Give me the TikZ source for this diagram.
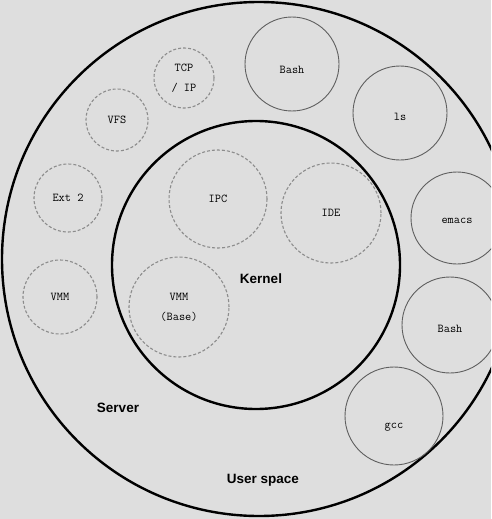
\documentclass[tikz,border=0pt]{standalone}
\usepackage{fontspec}
\setmainfont{Liberation Serif}
\setsansfont{Liberation Sans}
\usepackage{tikz}
\usetikzlibrary{positioning}
\definecolor{paper}{RGB}{222,222,222}
\definecolor{dashgray}{RGB}{140,140,140}
\definecolor{ringgray}{RGB}{95,95,95}

\begin{document}
\begin{tikzpicture}[x=1pt, y=-1pt,
  ring/.style={draw=black, line width=2.4pt, circle, inner sep=0pt},
  kmod/.style={draw=dashgray, densely dashed, line width=1.1pt, circle,
    inner sep=0pt, align=center, font=\ttfamily\fontsize{12}{20}\selectfont},
  uproc/.style={draw=ringgray, line width=0.9pt, circle, inner sep=0pt,
    font=\ttfamily\fontsize{12}{13}\selectfont},
  area/.style={font=\sffamily\bfseries\fontsize{13.5}{16}\selectfont}]
\useasboundingbox[fill=paper] (0,0) rectangle (491,519);
\clip (0,0) rectangle (491,519);
% the two rings
\node[ring, minimum size=514pt] (user) at (259,259) {};
\node[ring, minimum size=288pt] (kernel) at (256,265) {};
\node[area] (kname) at (261,279) {Kernel};
\node[area] (sname) at (118,408) {Server};
\node[area] (uname) at (263,480) {User space};
% servers (dashed)
\node[kmod, minimum size=60pt] (tcp) at (184,78) {TCP\\/ IP};
\node[kmod, minimum size=62pt] (vfs) at (117,120) {VFS};
\node[kmod, minimum size=68pt] (ext) at (68,198) {Ext 2};
\node[kmod, minimum size=74pt] (vmm) at (60,297) {VMM};
% inside the kernel
\node[kmod, minimum size=98pt] (ipc) at (218,199) {IPC};
\node[kmod, minimum size=100pt] (ide) at (331,213) {IDE};
\node[kmod, minimum size=100pt] (vmmb) at (179,307) {VMM\\(Base)};
% user programs
\node[uproc, minimum size=94pt, label={[uproc, draw=none, yshift=-6pt]center:Bash}] (bash) at (292,64) {};
\node[uproc, minimum size=94pt, label={[uproc, draw=none, yshift=-4pt]center:ls}] (ls) at (400,113) {};
\node[uproc, minimum size=92pt, label={[uproc, draw=none, yshift=-3pt]center:emacs}] (emacs) at (457,218) {};
\node[uproc, minimum size=96pt, label={[uproc, draw=none, yshift=-4pt]center:Bash}] (bash2) at (450,325) {};
\node[uproc, minimum size=98pt, label={[uproc, draw=none, yshift=-11pt]center:gcc}] (gcc) at (394,416) {};
\end{tikzpicture}
\end{document}
